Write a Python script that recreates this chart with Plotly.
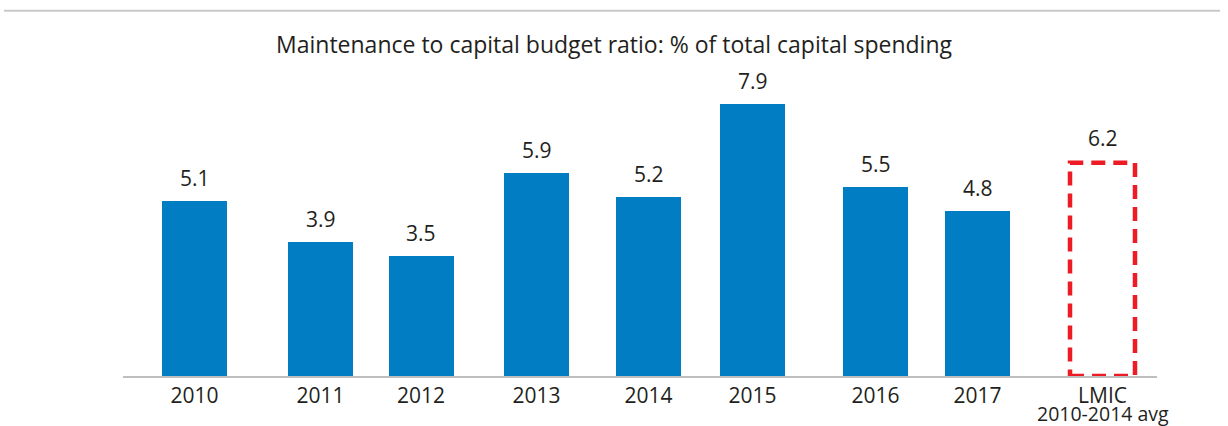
import plotly.graph_objects as go

# Data
years = ["2010", "2011", "2012", "2013", "2014", "2015", "2016", "2017"]
ratios = [5.1, 3.9, 3.5, 5.9, 5.2, 7.9, 5.5, 4.8]
benchmark_label = "LMIC"
benchmark_sub = "2010-2014 avg"
benchmark_value = 6.2

# Slot centres along the x axis (axis units) and bar width
slot_x = [71.5, 197.5, 298, 413.5, 525.5, 629.5, 752.5, 854.5, 979.5]
bar_w = 65

BLUE = "#007DC3"
RED = "#ED1C24"
TEXT = "#231F20"
FONT = "Open Sans"

fig = go.Figure()
fig.add_trace(go.Bar(
    x=slot_x[:len(years)], y=ratios, width=bar_w,
    marker=dict(color=BLUE, line=dict(width=0)),
    hoverinfo="skip", showlegend=False,
))

# Dashed outline box for the benchmark
bx = slot_x[len(years)]
fig.add_shape(
    type="rect", xref="x", yref="y",
    x0=bx - bar_w / 2, x1=bx + bar_w / 2, y0=0, y1=benchmark_value,
    line=dict(color=RED, width=4.5, dash="14px,8px"),
    fillcolor="rgba(0,0,0,0)",
)

# Value labels
for i, (x, v) in enumerate(zip(slot_x, ratios + [benchmark_value])):
    extra = 9 if i == len(years) else 7
    fig.add_annotation(
        x=x, y=v, xref="x", yref="y", text=f"{v:.1f}",
        showarrow=False, yanchor="bottom", yshift=extra,
        font=dict(family=FONT, size=21, color=TEXT),
    )

# Second line under the benchmark tick label
fig.add_annotation(
    x=bx, xref="x", y=-0.124, yref="paper", text=benchmark_sub,
    showarrow=False, yanchor="middle",
    font=dict(family=FONT, size=19.5, color=TEXT),
)

# Thin rule across the top
fig.add_shape(
    type="line", xref="paper", yref="paper",
    x0=-0.115, x1=1.061, y0=1.194, y1=1.194,
    line=dict(color="#C8C8C8", width=2),
)

ticktext = years + [benchmark_label]

fig.update_layout(
    width=1228, height=426,
    margin=dict(l=123, r=71, t=70, b=50),
    paper_bgcolor="white", plot_bgcolor="white",
    title=dict(
        text="Maintenance to capital budget ratio: % of total capital spending",
        x=614 / 1228, xanchor="center", xref="container", y=1 - 45 / 426, yanchor="middle",
        font=dict(family=FONT, size=23, color=TEXT),
    ),
    xaxis=dict(
        range=[0, 1034], tickmode="array", tickvals=slot_x, ticktext=ticktext,
        showgrid=False, zeroline=False, showline=True, linecolor="#BFBFBF",
        linewidth=1.5, ticks="", tickfont=dict(family=FONT, size=21, color=TEXT),
        automargin=False, fixedrange=True,
    ),
    yaxis=dict(
        range=[0, 8.895], visible=False, showgrid=False, zeroline=False,
        automargin=False, fixedrange=True,
    ),
    bargap=0,
)

fig.write_html("out.html")
